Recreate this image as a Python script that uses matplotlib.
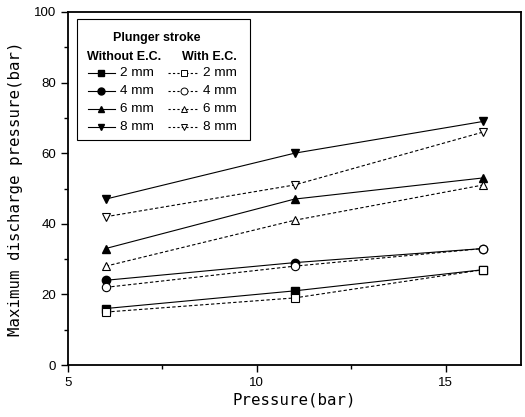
import matplotlib
matplotlib.use("Agg")
import matplotlib.pyplot as plt
from matplotlib.lines import Line2D
from matplotlib.patches import Rectangle
from matplotlib.ticker import MultipleLocator

pressure = [6, 11, 16]
strokes = ["2 mm", "4 mm", "6 mm", "8 mm"]
markers = ["s", "o", "^", "v"]
without_ec = {
    "2 mm": [16, 21, 27],
    "4 mm": [24, 29, 33],
    "6 mm": [33, 47, 53],
    "8 mm": [47, 60, 69],
}
with_ec = {
    "2 mm": [15, 19, 27],
    "4 mm": [22, 28, 33],
    "6 mm": [28, 41, 51],
    "8 mm": [42, 51, 66],
}

plt.rcParams['font.family'] = ['Liberation Sans', 'DejaVu Sans']
fig = plt.figure(figsize=(5.25, 4.17), dpi=100)
ax = fig.add_axes([68/525, 1-365/417, 453/525, 353/417])

for s, m in zip(strokes, markers):
    ax.plot(pressure, without_ec[s], color='black', lw=0.8, marker=m,
            markersize=6, markerfacecolor='black', markeredgecolor='black')
    ax.plot(pressure, with_ec[s], color='black', lw=0.8, ls=(0, (3, 2)), marker=m,
            markersize=6, markerfacecolor='white', markeredgecolor='black',
            markeredgewidth=0.8)

ax.set_xlim(5, 17)
ax.set_ylim(0, 100)
ax.xaxis.set_major_locator(MultipleLocator(5))
ax.xaxis.set_minor_locator(MultipleLocator(2.5))
ax.yaxis.set_major_locator(MultipleLocator(20))
ax.yaxis.set_minor_locator(MultipleLocator(10))
ax.tick_params(which='major', direction='out', length=5, width=1, labelsize=9.5)
ax.tick_params(which='minor', direction='out', length=3, width=1)
for sp in ax.spines.values():
    sp.set_linewidth(1.3)

ax.set_xlabel("Pressure(bar)", family='DejaVu Sans Mono', fontsize=11.3, labelpad=3)
ax.set_ylabel("Maximum discharge pressure(bar)", family='DejaVu Sans Mono',
              fontsize=11.3, labelpad=8)

# Custom legend box (axes coordinates)
def px(x):
    return (x - 68) / 453
def py(y):
    return (365 - y) / 353

ax.add_patch(Rectangle((px(77), py(140)), px(250) - px(77), py(19) - py(140),
                       transform=ax.transAxes, fill=False, lw=0.8, ec='black'))
ax.text(px(157), py(38), "Plunger stroke", transform=ax.transAxes,
        ha='center', va='center', fontsize=9, fontweight='bold')
ax.text(px(87), py(57), "Without E.C.", transform=ax.transAxes,
        ha='left', va='center', fontsize=9, fontweight='bold')
ax.text(px(182), py(57), "With E.C.", transform=ax.transAxes,
        ha='left', va='center', fontsize=9, fontweight='bold')
rows = [73, 91, 109, 127]
for s, m, yy in zip(strokes, markers, rows):
    ax.add_line(Line2D([px(88), px(115)], [py(yy), py(yy)], transform=ax.transAxes,
                       color='black', lw=0.8))
    ax.add_line(Line2D([px(101)], [py(yy)], transform=ax.transAxes, marker=m,
                       markersize=5, color='black', ls='none'))
    ax.text(px(120), py(yy), s, transform=ax.transAxes, ha='left', va='center',
            fontsize=9.7)
    ax.add_line(Line2D([px(168), px(198)], [py(yy), py(yy)], transform=ax.transAxes,
                       color='black', lw=0.8, ls=(0, (2, 2))))
    ax.add_line(Line2D([px(184)], [py(yy)], transform=ax.transAxes, marker=m,
                       markersize=5, color='black', markerfacecolor='white',
                       markeredgewidth=0.7, ls='none'))
    ax.text(px(203), py(yy), s, transform=ax.transAxes, ha='left', va='center',
            fontsize=9.7)

fig.savefig("out.png", dpi=100)
